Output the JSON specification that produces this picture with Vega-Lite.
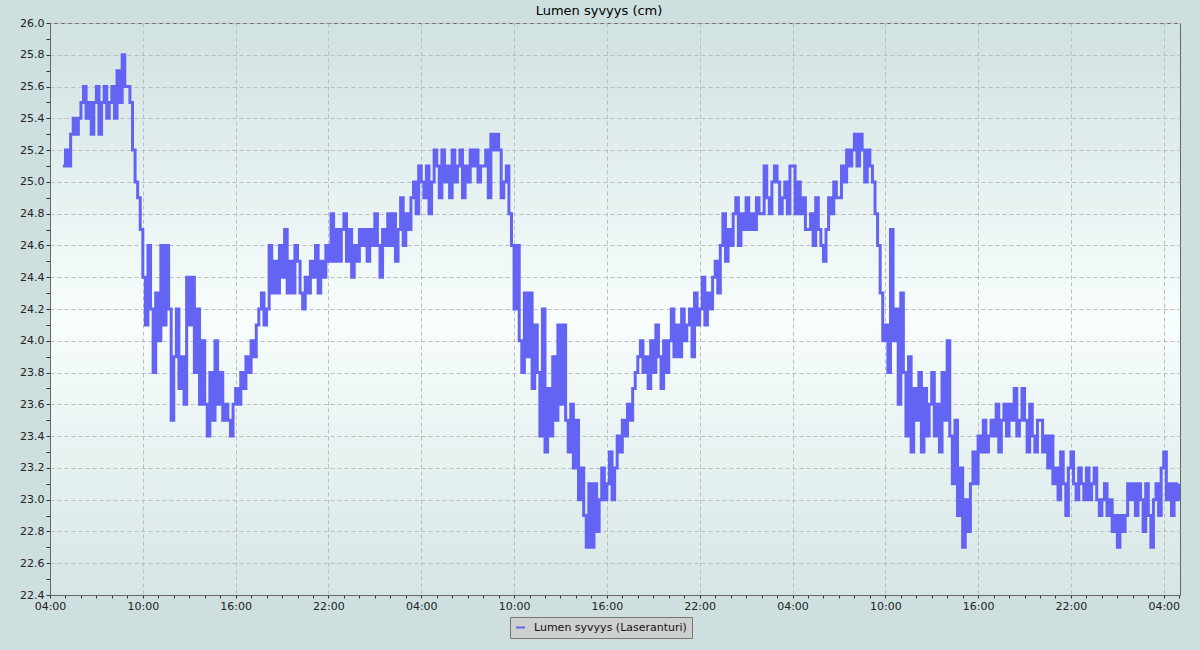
{
  "$schema": "https://vega.github.io/schema/vega-lite/v6.json",
  "width": 1130,
  "height": 572,
  "autosize": {"type": "none"},
  "padding": {"left": 50, "top": 23, "right": 20, "bottom": 55},
  "background": "#cddfde",
  "title": {"text": "Lumen syvyys (cm)", "font": "DejaVu Sans", "fontSize": 13, "fontWeight": "normal", "color": "#000000", "anchor": "middle", "frame": "group", "dx": -16, "offset": -1},
  "config": {
    "view": {"stroke": "#666666", "strokeWidth": 1, "fill": {"gradient": "linear", "x1": 0, "y1": 0, "x2": 0, "y2": 1, "stops": [{"offset": 0, "color": "#d0e2e1"}, {"offset": 0.52, "color": "#f8fdfd"}, {"offset": 1, "color": "#d6e6e5"}]}},
    "axis": {"labelFont": "DejaVu Sans", "labelFontSize": 11, "labelColor": "#222222", "domainColor": "#666666", "tickColor": "#333333", "gridColor": "#bdbdbd", "gridDash": [4, 3], "gridWidth": 1, "title": null}
  },
  "data": {"values": [
{"t":"2024-01-01 04:50","v":25.1},
{"t":"2024-01-01 05:00","v":25.2},{"t":"2024-01-01 05:10","v":25.1},{"t":"2024-01-01 05:20","v":25.3},{"t":"2024-01-01 05:30","v":25.4},{"t":"2024-01-01 05:40","v":25.3},{"t":"2024-01-01 05:50","v":25.4},
{"t":"2024-01-01 06:00","v":25.5},{"t":"2024-01-01 06:10","v":25.6},{"t":"2024-01-01 06:20","v":25.4},{"t":"2024-01-01 06:30","v":25.5},{"t":"2024-01-01 06:40","v":25.3},{"t":"2024-01-01 06:50","v":25.5},
{"t":"2024-01-01 07:00","v":25.6},{"t":"2024-01-01 07:10","v":25.3},{"t":"2024-01-01 07:20","v":25.5},{"t":"2024-01-01 07:30","v":25.6},{"t":"2024-01-01 07:40","v":25.4},{"t":"2024-01-01 07:50","v":25.5},
{"t":"2024-01-01 08:00","v":25.6},{"t":"2024-01-01 08:10","v":25.4},{"t":"2024-01-01 08:20","v":25.7},{"t":"2024-01-01 08:30","v":25.5},{"t":"2024-01-01 08:40","v":25.8},{"t":"2024-01-01 08:50","v":25.6},
{"t":"2024-01-01 09:00","v":25.6},{"t":"2024-01-01 09:10","v":25.5},{"t":"2024-01-01 09:20","v":25.2},{"t":"2024-01-01 09:30","v":25.0},{"t":"2024-01-01 09:40","v":24.9},{"t":"2024-01-01 09:50","v":24.7},
{"t":"2024-01-01 10:00","v":24.4},{"t":"2024-01-01 10:10","v":24.1},{"t":"2024-01-01 10:20","v":24.6},{"t":"2024-01-01 10:30","v":24.2},{"t":"2024-01-01 10:40","v":23.8},{"t":"2024-01-01 10:50","v":24.3},
{"t":"2024-01-01 11:00","v":24.0},{"t":"2024-01-01 11:10","v":24.6},{"t":"2024-01-01 11:20","v":24.1},{"t":"2024-01-01 11:30","v":24.6},{"t":"2024-01-01 11:40","v":24.2},{"t":"2024-01-01 11:50","v":23.5},
{"t":"2024-01-01 12:00","v":23.9},{"t":"2024-01-01 12:10","v":24.2},{"t":"2024-01-01 12:20","v":23.7},{"t":"2024-01-01 12:30","v":23.9},{"t":"2024-01-01 12:40","v":23.6},{"t":"2024-01-01 12:50","v":24.4},
{"t":"2024-01-01 13:00","v":24.1},{"t":"2024-01-01 13:10","v":24.4},{"t":"2024-01-01 13:20","v":23.8},{"t":"2024-01-01 13:30","v":24.2},{"t":"2024-01-01 13:40","v":23.6},{"t":"2024-01-01 13:50","v":24.0},
{"t":"2024-01-01 14:00","v":23.6},{"t":"2024-01-01 14:10","v":23.4},{"t":"2024-01-01 14:20","v":23.8},{"t":"2024-01-01 14:30","v":23.5},{"t":"2024-01-01 14:40","v":24.0},{"t":"2024-01-01 14:50","v":23.6},
{"t":"2024-01-01 15:00","v":23.8},{"t":"2024-01-01 15:10","v":23.5},{"t":"2024-01-01 15:20","v":23.6},{"t":"2024-01-01 15:30","v":23.5},{"t":"2024-01-01 15:40","v":23.4},{"t":"2024-01-01 15:50","v":23.6},
{"t":"2024-01-01 16:00","v":23.7},{"t":"2024-01-01 16:10","v":23.6},{"t":"2024-01-01 16:20","v":23.8},{"t":"2024-01-01 16:30","v":23.7},{"t":"2024-01-01 16:40","v":23.9},{"t":"2024-01-01 16:50","v":23.8},
{"t":"2024-01-01 17:00","v":24.0},{"t":"2024-01-01 17:10","v":23.9},{"t":"2024-01-01 17:20","v":24.1},{"t":"2024-01-01 17:30","v":24.2},{"t":"2024-01-01 17:40","v":24.3},{"t":"2024-01-01 17:50","v":24.1},
{"t":"2024-01-01 18:00","v":24.2},{"t":"2024-01-01 18:10","v":24.6},{"t":"2024-01-01 18:20","v":24.3},{"t":"2024-01-01 18:30","v":24.5},{"t":"2024-01-01 18:40","v":24.3},{"t":"2024-01-01 18:50","v":24.6},
{"t":"2024-01-01 19:00","v":24.4},{"t":"2024-01-01 19:10","v":24.7},{"t":"2024-01-01 19:20","v":24.3},{"t":"2024-01-01 19:30","v":24.5},{"t":"2024-01-01 19:40","v":24.3},{"t":"2024-01-01 19:50","v":24.6},
{"t":"2024-01-01 20:00","v":24.5},{"t":"2024-01-01 20:10","v":24.3},{"t":"2024-01-01 20:20","v":24.2},{"t":"2024-01-01 20:30","v":24.4},{"t":"2024-01-01 20:40","v":24.3},{"t":"2024-01-01 20:50","v":24.5},
{"t":"2024-01-01 21:00","v":24.4},{"t":"2024-01-01 21:10","v":24.6},{"t":"2024-01-01 21:20","v":24.3},{"t":"2024-01-01 21:30","v":24.5},{"t":"2024-01-01 21:40","v":24.4},{"t":"2024-01-01 21:50","v":24.6},
{"t":"2024-01-01 22:00","v":24.5},{"t":"2024-01-01 22:10","v":24.8},{"t":"2024-01-01 22:20","v":24.5},{"t":"2024-01-01 22:30","v":24.7},{"t":"2024-01-01 22:40","v":24.5},{"t":"2024-01-01 22:50","v":24.7},
{"t":"2024-01-01 23:00","v":24.8},{"t":"2024-01-01 23:10","v":24.5},{"t":"2024-01-01 23:20","v":24.7},{"t":"2024-01-01 23:30","v":24.4},{"t":"2024-01-01 23:40","v":24.6},{"t":"2024-01-01 23:50","v":24.5},
{"t":"2024-01-02 00:00","v":24.7},{"t":"2024-01-02 00:10","v":24.6},{"t":"2024-01-02 00:20","v":24.7},{"t":"2024-01-02 00:30","v":24.5},{"t":"2024-01-02 00:40","v":24.7},{"t":"2024-01-02 00:50","v":24.6},
{"t":"2024-01-02 01:00","v":24.8},{"t":"2024-01-02 01:10","v":24.6},{"t":"2024-01-02 01:20","v":24.4},{"t":"2024-01-02 01:30","v":24.7},{"t":"2024-01-02 01:40","v":24.6},{"t":"2024-01-02 01:50","v":24.8},
{"t":"2024-01-02 02:00","v":24.6},{"t":"2024-01-02 02:10","v":24.8},{"t":"2024-01-02 02:20","v":24.5},{"t":"2024-01-02 02:30","v":24.7},{"t":"2024-01-02 02:40","v":24.9},{"t":"2024-01-02 02:50","v":24.6},
{"t":"2024-01-02 03:00","v":24.8},{"t":"2024-01-02 03:10","v":24.7},{"t":"2024-01-02 03:20","v":24.9},{"t":"2024-01-02 03:30","v":25.0},{"t":"2024-01-02 03:40","v":24.8},{"t":"2024-01-02 03:50","v":25.1},
{"t":"2024-01-02 04:00","v":25.0},{"t":"2024-01-02 04:10","v":24.9},{"t":"2024-01-02 04:20","v":25.1},{"t":"2024-01-02 04:30","v":24.8},{"t":"2024-01-02 04:40","v":25.0},{"t":"2024-01-02 04:50","v":25.2},
{"t":"2024-01-02 05:00","v":25.1},{"t":"2024-01-02 05:10","v":24.9},{"t":"2024-01-02 05:20","v":25.2},{"t":"2024-01-02 05:30","v":25.0},{"t":"2024-01-02 05:40","v":25.1},{"t":"2024-01-02 05:50","v":24.9},
{"t":"2024-01-02 06:00","v":25.2},{"t":"2024-01-02 06:10","v":25.0},{"t":"2024-01-02 06:20","v":25.1},{"t":"2024-01-02 06:30","v":25.2},{"t":"2024-01-02 06:40","v":24.9},{"t":"2024-01-02 06:50","v":25.1},
{"t":"2024-01-02 07:00","v":25.0},{"t":"2024-01-02 07:10","v":25.2},{"t":"2024-01-02 07:20","v":25.1},{"t":"2024-01-02 07:30","v":25.2},{"t":"2024-01-02 07:40","v":25.0},{"t":"2024-01-02 07:50","v":25.1},
{"t":"2024-01-02 08:00","v":25.1},{"t":"2024-01-02 08:10","v":25.2},{"t":"2024-01-02 08:20","v":24.9},{"t":"2024-01-02 08:30","v":25.3},{"t":"2024-01-02 08:40","v":25.2},{"t":"2024-01-02 08:50","v":25.3},
{"t":"2024-01-02 09:00","v":25.2},{"t":"2024-01-02 09:10","v":24.9},{"t":"2024-01-02 09:20","v":25.0},{"t":"2024-01-02 09:30","v":25.1},{"t":"2024-01-02 09:40","v":24.8},{"t":"2024-01-02 09:50","v":24.6},
{"t":"2024-01-02 10:00","v":24.2},{"t":"2024-01-02 10:10","v":24.6},{"t":"2024-01-02 10:20","v":24.0},{"t":"2024-01-02 10:30","v":23.8},{"t":"2024-01-02 10:40","v":24.3},{"t":"2024-01-02 10:50","v":23.9},
{"t":"2024-01-02 11:00","v":24.3},{"t":"2024-01-02 11:10","v":23.7},{"t":"2024-01-02 11:20","v":24.1},{"t":"2024-01-02 11:30","v":23.8},{"t":"2024-01-02 11:40","v":23.4},{"t":"2024-01-02 11:50","v":24.2},
{"t":"2024-01-02 12:00","v":23.3},{"t":"2024-01-02 12:10","v":23.7},{"t":"2024-01-02 12:20","v":23.4},{"t":"2024-01-02 12:30","v":23.9},{"t":"2024-01-02 12:40","v":23.5},{"t":"2024-01-02 12:50","v":24.1},
{"t":"2024-01-02 13:00","v":23.6},{"t":"2024-01-02 13:10","v":24.1},{"t":"2024-01-02 13:20","v":23.5},{"t":"2024-01-02 13:30","v":23.3},{"t":"2024-01-02 13:40","v":23.6},{"t":"2024-01-02 13:50","v":23.2},
{"t":"2024-01-02 14:00","v":23.5},{"t":"2024-01-02 14:10","v":23.0},{"t":"2024-01-02 14:20","v":23.2},{"t":"2024-01-02 14:30","v":22.9},{"t":"2024-01-02 14:40","v":22.7},{"t":"2024-01-02 14:50","v":23.1},
{"t":"2024-01-02 15:00","v":22.7},{"t":"2024-01-02 15:10","v":23.1},{"t":"2024-01-02 15:20","v":22.8},{"t":"2024-01-02 15:30","v":23.0},{"t":"2024-01-02 15:40","v":23.2},{"t":"2024-01-02 15:50","v":23.0},
{"t":"2024-01-02 16:00","v":23.1},{"t":"2024-01-02 16:10","v":23.3},{"t":"2024-01-02 16:20","v":23.0},{"t":"2024-01-02 16:30","v":23.2},{"t":"2024-01-02 16:40","v":23.4},{"t":"2024-01-02 16:50","v":23.3},
{"t":"2024-01-02 17:00","v":23.5},{"t":"2024-01-02 17:10","v":23.4},{"t":"2024-01-02 17:20","v":23.6},{"t":"2024-01-02 17:30","v":23.5},{"t":"2024-01-02 17:40","v":23.7},{"t":"2024-01-02 17:50","v":23.8},
{"t":"2024-01-02 18:00","v":23.9},{"t":"2024-01-02 18:10","v":24.0},{"t":"2024-01-02 18:20","v":23.8},{"t":"2024-01-02 18:30","v":23.9},{"t":"2024-01-02 18:40","v":23.7},{"t":"2024-01-02 18:50","v":24.0},
{"t":"2024-01-02 19:00","v":23.8},{"t":"2024-01-02 19:10","v":24.1},{"t":"2024-01-02 19:20","v":23.9},{"t":"2024-01-02 19:30","v":23.7},{"t":"2024-01-02 19:40","v":24.0},{"t":"2024-01-02 19:50","v":23.8},
{"t":"2024-01-02 20:00","v":24.0},{"t":"2024-01-02 20:10","v":24.2},{"t":"2024-01-02 20:20","v":23.9},{"t":"2024-01-02 20:30","v":24.1},{"t":"2024-01-02 20:40","v":23.9},{"t":"2024-01-02 20:50","v":24.2},
{"t":"2024-01-02 21:00","v":24.0},{"t":"2024-01-02 21:10","v":24.1},{"t":"2024-01-02 21:20","v":24.2},{"t":"2024-01-02 21:30","v":23.9},{"t":"2024-01-02 21:40","v":24.3},{"t":"2024-01-02 21:50","v":24.1},
{"t":"2024-01-02 22:00","v":24.2},{"t":"2024-01-02 22:10","v":24.4},{"t":"2024-01-02 22:20","v":24.1},{"t":"2024-01-02 22:30","v":24.3},{"t":"2024-01-02 22:40","v":24.2},{"t":"2024-01-02 22:50","v":24.4},
{"t":"2024-01-02 23:00","v":24.5},{"t":"2024-01-02 23:10","v":24.3},{"t":"2024-01-02 23:20","v":24.6},{"t":"2024-01-02 23:30","v":24.8},{"t":"2024-01-02 23:40","v":24.5},{"t":"2024-01-02 23:50","v":24.7},
{"t":"2024-01-03 00:00","v":24.6},{"t":"2024-01-03 00:10","v":24.8},{"t":"2024-01-03 00:20","v":24.9},{"t":"2024-01-03 00:30","v":24.6},{"t":"2024-01-03 00:40","v":24.8},{"t":"2024-01-03 00:50","v":24.7},
{"t":"2024-01-03 01:00","v":24.9},{"t":"2024-01-03 01:10","v":24.7},{"t":"2024-01-03 01:20","v":24.8},{"t":"2024-01-03 01:30","v":24.7},{"t":"2024-01-03 01:40","v":24.9},{"t":"2024-01-03 01:50","v":24.8},
{"t":"2024-01-03 02:00","v":24.8},{"t":"2024-01-03 02:10","v":25.1},{"t":"2024-01-03 02:20","v":24.9},{"t":"2024-01-03 02:30","v":24.8},{"t":"2024-01-03 02:40","v":25.0},{"t":"2024-01-03 02:50","v":25.1},
{"t":"2024-01-03 03:00","v":25.0},{"t":"2024-01-03 03:10","v":24.8},{"t":"2024-01-03 03:20","v":24.9},{"t":"2024-01-03 03:30","v":25.0},{"t":"2024-01-03 03:40","v":24.8},{"t":"2024-01-03 03:50","v":25.1},
{"t":"2024-01-03 04:00","v":25.1},{"t":"2024-01-03 04:10","v":24.8},{"t":"2024-01-03 04:20","v":25.0},{"t":"2024-01-03 04:30","v":24.8},{"t":"2024-01-03 04:40","v":24.9},{"t":"2024-01-03 04:50","v":24.7},
{"t":"2024-01-03 05:00","v":24.7},{"t":"2024-01-03 05:10","v":24.8},{"t":"2024-01-03 05:20","v":24.6},{"t":"2024-01-03 05:30","v":24.9},{"t":"2024-01-03 05:40","v":24.7},{"t":"2024-01-03 05:50","v":24.6},
{"t":"2024-01-03 06:00","v":24.5},{"t":"2024-01-03 06:10","v":24.7},{"t":"2024-01-03 06:20","v":24.9},{"t":"2024-01-03 06:30","v":24.8},{"t":"2024-01-03 06:40","v":25.0},{"t":"2024-01-03 06:50","v":24.9},
{"t":"2024-01-03 07:00","v":24.9},{"t":"2024-01-03 07:10","v":25.1},{"t":"2024-01-03 07:20","v":25.0},{"t":"2024-01-03 07:30","v":25.2},{"t":"2024-01-03 07:40","v":25.1},{"t":"2024-01-03 07:50","v":25.2},
{"t":"2024-01-03 08:00","v":25.3},{"t":"2024-01-03 08:10","v":25.1},{"t":"2024-01-03 08:20","v":25.3},{"t":"2024-01-03 08:30","v":25.2},{"t":"2024-01-03 08:40","v":25.0},{"t":"2024-01-03 08:50","v":25.2},
{"t":"2024-01-03 09:00","v":25.1},{"t":"2024-01-03 09:10","v":25.0},{"t":"2024-01-03 09:20","v":24.8},{"t":"2024-01-03 09:30","v":24.6},{"t":"2024-01-03 09:40","v":24.3},{"t":"2024-01-03 09:50","v":24.0},
{"t":"2024-01-03 10:00","v":24.1},{"t":"2024-01-03 10:10","v":23.8},{"t":"2024-01-03 10:20","v":24.7},{"t":"2024-01-03 10:30","v":24.0},{"t":"2024-01-03 10:40","v":24.2},{"t":"2024-01-03 10:50","v":23.6},
{"t":"2024-01-03 11:00","v":24.3},{"t":"2024-01-03 11:10","v":23.8},{"t":"2024-01-03 11:20","v":23.4},{"t":"2024-01-03 11:30","v":23.9},{"t":"2024-01-03 11:40","v":23.3},{"t":"2024-01-03 11:50","v":23.7},
{"t":"2024-01-03 12:00","v":23.5},{"t":"2024-01-03 12:10","v":23.8},{"t":"2024-01-03 12:20","v":23.3},{"t":"2024-01-03 12:30","v":23.7},{"t":"2024-01-03 12:40","v":23.4},{"t":"2024-01-03 12:50","v":23.6},
{"t":"2024-01-03 13:00","v":23.8},{"t":"2024-01-03 13:10","v":23.4},{"t":"2024-01-03 13:20","v":23.6},{"t":"2024-01-03 13:30","v":23.3},{"t":"2024-01-03 13:40","v":23.8},{"t":"2024-01-03 13:50","v":23.5},
{"t":"2024-01-03 14:00","v":24.0},{"t":"2024-01-03 14:10","v":23.4},{"t":"2024-01-03 14:20","v":23.1},{"t":"2024-01-03 14:30","v":23.5},{"t":"2024-01-03 14:40","v":22.9},{"t":"2024-01-03 14:50","v":23.2},
{"t":"2024-01-03 15:00","v":22.7},{"t":"2024-01-03 15:10","v":23.0},{"t":"2024-01-03 15:20","v":22.8},{"t":"2024-01-03 15:30","v":23.1},{"t":"2024-01-03 15:40","v":23.3},{"t":"2024-01-03 15:50","v":23.1},
{"t":"2024-01-03 16:00","v":23.4},{"t":"2024-01-03 16:10","v":23.3},{"t":"2024-01-03 16:20","v":23.5},{"t":"2024-01-03 16:30","v":23.3},{"t":"2024-01-03 16:40","v":23.4},{"t":"2024-01-03 16:50","v":23.5},
{"t":"2024-01-03 17:00","v":23.4},{"t":"2024-01-03 17:10","v":23.6},{"t":"2024-01-03 17:20","v":23.3},{"t":"2024-01-03 17:30","v":23.5},{"t":"2024-01-03 17:40","v":23.6},{"t":"2024-01-03 17:50","v":23.4},
{"t":"2024-01-03 18:00","v":23.6},{"t":"2024-01-03 18:10","v":23.5},{"t":"2024-01-03 18:20","v":23.7},{"t":"2024-01-03 18:30","v":23.4},{"t":"2024-01-03 18:40","v":23.5},{"t":"2024-01-03 18:50","v":23.7},
{"t":"2024-01-03 19:00","v":23.5},{"t":"2024-01-03 19:10","v":23.3},{"t":"2024-01-03 19:20","v":23.6},{"t":"2024-01-03 19:30","v":23.4},{"t":"2024-01-03 19:40","v":23.3},{"t":"2024-01-03 19:50","v":23.5},
{"t":"2024-01-03 20:00","v":23.5},{"t":"2024-01-03 20:10","v":23.3},{"t":"2024-01-03 20:20","v":23.4},{"t":"2024-01-03 20:30","v":23.2},{"t":"2024-01-03 20:40","v":23.4},{"t":"2024-01-03 20:50","v":23.1},
{"t":"2024-01-03 21:00","v":23.2},{"t":"2024-01-03 21:10","v":23.0},{"t":"2024-01-03 21:20","v":23.3},{"t":"2024-01-03 21:30","v":23.1},{"t":"2024-01-03 21:40","v":22.9},{"t":"2024-01-03 21:50","v":23.2},
{"t":"2024-01-03 22:00","v":23.3},{"t":"2024-01-03 22:10","v":23.1},{"t":"2024-01-03 22:20","v":23.0},{"t":"2024-01-03 22:30","v":23.2},{"t":"2024-01-03 22:40","v":23.1},{"t":"2024-01-03 22:50","v":23.0},
{"t":"2024-01-03 23:00","v":23.2},{"t":"2024-01-03 23:10","v":23.0},{"t":"2024-01-03 23:20","v":23.1},{"t":"2024-01-03 23:30","v":23.2},{"t":"2024-01-03 23:40","v":23.0},{"t":"2024-01-03 23:50","v":22.9},
{"t":"2024-01-04 00:00","v":23.0},{"t":"2024-01-04 00:10","v":23.1},{"t":"2024-01-04 00:20","v":22.9},{"t":"2024-01-04 00:30","v":23.0},{"t":"2024-01-04 00:40","v":22.8},{"t":"2024-01-04 00:50","v":22.9},
{"t":"2024-01-04 01:00","v":22.7},{"t":"2024-01-04 01:10","v":22.9},{"t":"2024-01-04 01:20","v":22.8},{"t":"2024-01-04 01:30","v":22.9},{"t":"2024-01-04 01:40","v":23.1},{"t":"2024-01-04 01:50","v":23.0},
{"t":"2024-01-04 02:00","v":23.1},{"t":"2024-01-04 02:10","v":22.9},{"t":"2024-01-04 02:20","v":23.1},{"t":"2024-01-04 02:30","v":23.0},{"t":"2024-01-04 02:40","v":22.8},{"t":"2024-01-04 02:50","v":23.1},
{"t":"2024-01-04 03:00","v":22.9},{"t":"2024-01-04 03:10","v":22.7},{"t":"2024-01-04 03:20","v":23.0},{"t":"2024-01-04 03:30","v":23.1},{"t":"2024-01-04 03:40","v":22.9},{"t":"2024-01-04 03:50","v":23.2},
{"t":"2024-01-04 04:00","v":23.3},{"t":"2024-01-04 04:10","v":23.0},{"t":"2024-01-04 04:20","v":23.1},{"t":"2024-01-04 04:30","v":22.9},{"t":"2024-01-04 04:40","v":23.1},{"t":"2024-01-04 04:50","v":23.0},
{"t":"2024-01-04 05:00","v":23.1}
  ]},
  "mark": {"type": "line", "strokeWidth": 3, "clip": true, "interpolate": "step-after"},
  "encoding": {
    "x": {
      "field": "t", "type": "temporal",
      "scale": {"domain": [{"year": 2024, "month": 1, "date": 1, "hours": 4}, {"year": 2024, "month": 1, "date": 4, "hours": 5, "minutes": 3}], "nice": false},
      "axis": {
        "values": [
          {"year":2024,"month":1,"date":1,"hours":4},{"year":2024,"month":1,"date":1,"hours":5},{"year":2024,"month":1,"date":1,"hours":6},{"year":2024,"month":1,"date":1,"hours":7},{"year":2024,"month":1,"date":1,"hours":8},{"year":2024,"month":1,"date":1,"hours":9},
          {"year":2024,"month":1,"date":1,"hours":10},{"year":2024,"month":1,"date":1,"hours":11},{"year":2024,"month":1,"date":1,"hours":12},{"year":2024,"month":1,"date":1,"hours":13},{"year":2024,"month":1,"date":1,"hours":14},{"year":2024,"month":1,"date":1,"hours":15},
          {"year":2024,"month":1,"date":1,"hours":16},{"year":2024,"month":1,"date":1,"hours":17},{"year":2024,"month":1,"date":1,"hours":18},{"year":2024,"month":1,"date":1,"hours":19},{"year":2024,"month":1,"date":1,"hours":20},{"year":2024,"month":1,"date":1,"hours":21},
          {"year":2024,"month":1,"date":1,"hours":22},{"year":2024,"month":1,"date":1,"hours":23},{"year":2024,"month":1,"date":2,"hours":0},{"year":2024,"month":1,"date":2,"hours":1},{"year":2024,"month":1,"date":2,"hours":2},{"year":2024,"month":1,"date":2,"hours":3},
          {"year":2024,"month":1,"date":2,"hours":4},{"year":2024,"month":1,"date":2,"hours":5},{"year":2024,"month":1,"date":2,"hours":6},{"year":2024,"month":1,"date":2,"hours":7},{"year":2024,"month":1,"date":2,"hours":8},{"year":2024,"month":1,"date":2,"hours":9},
          {"year":2024,"month":1,"date":2,"hours":10},{"year":2024,"month":1,"date":2,"hours":11},{"year":2024,"month":1,"date":2,"hours":12},{"year":2024,"month":1,"date":2,"hours":13},{"year":2024,"month":1,"date":2,"hours":14},{"year":2024,"month":1,"date":2,"hours":15},
          {"year":2024,"month":1,"date":2,"hours":16},{"year":2024,"month":1,"date":2,"hours":17},{"year":2024,"month":1,"date":2,"hours":18},{"year":2024,"month":1,"date":2,"hours":19},{"year":2024,"month":1,"date":2,"hours":20},{"year":2024,"month":1,"date":2,"hours":21},
          {"year":2024,"month":1,"date":2,"hours":22},{"year":2024,"month":1,"date":2,"hours":23},{"year":2024,"month":1,"date":3,"hours":0},{"year":2024,"month":1,"date":3,"hours":1},{"year":2024,"month":1,"date":3,"hours":2},{"year":2024,"month":1,"date":3,"hours":3},
          {"year":2024,"month":1,"date":3,"hours":4},{"year":2024,"month":1,"date":3,"hours":5},{"year":2024,"month":1,"date":3,"hours":6},{"year":2024,"month":1,"date":3,"hours":7},{"year":2024,"month":1,"date":3,"hours":8},{"year":2024,"month":1,"date":3,"hours":9},
          {"year":2024,"month":1,"date":3,"hours":10},{"year":2024,"month":1,"date":3,"hours":11},{"year":2024,"month":1,"date":3,"hours":12},{"year":2024,"month":1,"date":3,"hours":13},{"year":2024,"month":1,"date":3,"hours":14},{"year":2024,"month":1,"date":3,"hours":15},
          {"year":2024,"month":1,"date":3,"hours":16},{"year":2024,"month":1,"date":3,"hours":17},{"year":2024,"month":1,"date":3,"hours":18},{"year":2024,"month":1,"date":3,"hours":19},{"year":2024,"month":1,"date":3,"hours":20},{"year":2024,"month":1,"date":3,"hours":21},
          {"year":2024,"month":1,"date":3,"hours":22},{"year":2024,"month":1,"date":3,"hours":23},{"year":2024,"month":1,"date":4,"hours":0},{"year":2024,"month":1,"date":4,"hours":1},{"year":2024,"month":1,"date":4,"hours":2},{"year":2024,"month":1,"date":4,"hours":3},
          {"year":2024,"month":1,"date":4,"hours":4},{"year":2024,"month":1,"date":4,"hours":5}
        ],
        "labelExpr": "hours(datum.value) % 6 == 4 ? timeFormat(datum.value, '%H:%M') : ''",
        "labelFlush": false, "labelOverlap": false, "labelPadding": 2, "tickSize": 3,
        "gridOpacity": {"condition": {"test": "hours(datum.value) % 6 == 4", "value": 1}, "value": 0}
      }
    },
    "y": {
      "field": "v", "type": "quantitative",
      "scale": {"domain": [22.4, 26.0], "nice": false, "zero": false},
      "axis": {
        "values": [22.4,22.5,22.6,22.7,22.8,22.9,23.0,23.1,23.2,23.3,23.4,23.5,23.6,23.7,23.8,23.9,24.0,24.1,24.2,24.3,24.4,24.5,24.6,24.7,24.8,24.9,25.0,25.1,25.2,25.3,25.4,25.5,25.6,25.7,25.8,25.9,26.0],
        "labelExpr": "round(datum.value * 10) % 2 == 0 ? format(datum.value, '.1f') : ''",
        "labelOverlap": false, "tickSize": 4, "labelPadding": 2,
        "gridOpacity": {"condition": {"test": "round(datum.value * 10) % 2 == 0", "value": 1}, "value": 0}
      }
    },
    "color": {
      "datum": "Lumen syvyys (Laseranturi)", "type": "nominal",
      "scale": {"range": ["#6464f4"]},
      "legend": {"title": null, "orient": "none", "legendX": 460, "legendY": 594, "fillColor": "#cfcfcf", "strokeColor": "#777777", "padding": 5, "symbolType": "stroke", "symbolStrokeWidth": 2, "symbolSize": 80, "labelFont": "DejaVu Sans", "labelFontSize": 11, "labelColor": "#111111", "labelOffset": 8, "cornerRadius": 0}
    }
  }
}
